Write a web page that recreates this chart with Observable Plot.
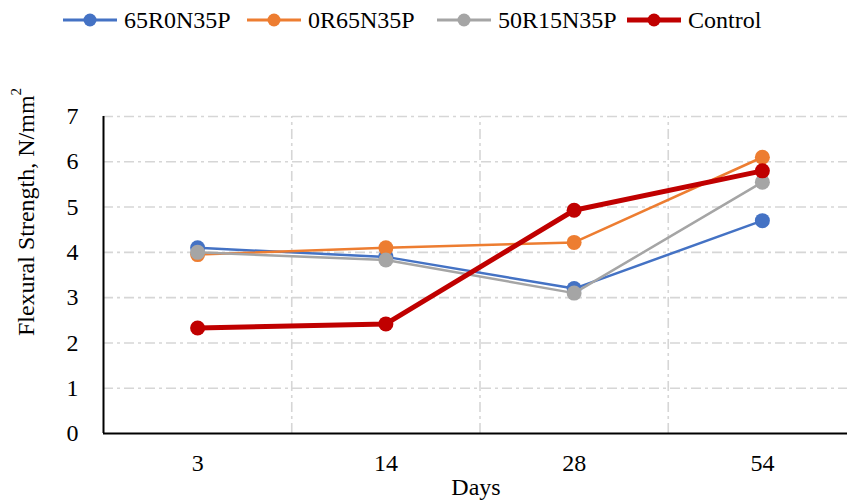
<!DOCTYPE html>
<html>
<head>
<meta charset="utf-8">
<script src="https://cdn.jsdelivr.net/npm/d3@7"></script>
<script src="https://cdn.jsdelivr.net/npm/@observablehq/plot@0.6"></script>
<style>
  html, body { margin: 0; padding: 0; background: #fff; }
  #wrap { position: relative; width: 847px; height: 501px; font-family: "Liberation Serif", serif; }
  .item { position: absolute; top: 6px; height: 28px; display: flex; align-items: center; font-family: "Liberation Serif", serif; font-size: 24px; color: #000; white-space: nowrap; }
  .item svg { margin-right: 7px; }
  svg text { font-family: "Liberation Serif", serif !important; font-variant: normal !important; font-variant-numeric: normal !important; }
</style>
</head>
<body>
<div id="wrap"></div>
<script>
// ---- data ----
const days = ["3", "14", "28", "54"];
const seriesNames = ["65R0N35P", "0R65N35P", "50R15N35P", "Control"];
const s65R0N35P = [4.1, 3.9, 3.2, 4.7];
const s0R65N35P = [3.95, 4.1, 4.22, 6.1];
const s50R15N35P = [4.0, 3.83, 3.1, 5.55];
const sControl = [2.33, 2.42, 4.93, 5.8];
const yTicks = [0, 1, 2, 3, 4, 5, 6, 7];
const colors = ["#4472C4", "#ED7D31", "#A5A5A5", "#C00000"];
const widths = [2.5, 2.5, 2.5, 5];

const seriesValues = [s65R0N35P, s0R65N35P, s50R15N35P, sControl];
const rowsBySeries = seriesValues.map((vals, k) =>
  vals.map((v, i) => ({series: seriesNames[k], i, day: days[i], value: v}))
);

const gridStyle = {stroke: "#d6d6d6", strokeWidth: 1.6, strokeDasharray: "10,4,3,4"};
const font = "Liberation Serif";

const seriesMarks = rowsBySeries.flatMap((rows, k) => [
  Plot.line(rows, {x: "i", y: "value", stroke: colors[k], strokeWidth: widths[k]}),
  Plot.dot(rows, {x: "i", y: "value", r: 7.5, fill: colors[k], stroke: "none"})
]);

const chart = Plot.plot({
  width: 847,
  height: 501,
  marginLeft: 103,
  marginRight: 0,
  marginTop: 116,
  marginBottom: 68,
  style: {fontFamily: font, fontSize: "24px", color: "#000", background: "#fff", overflow: "visible"},
  x: {type: "linear", domain: [-0.5, 3.5], range: [103, 856]},
  y: {domain: [0, 7], range: [433, 116]},
  marks: [
    Plot.ruleY(yTicks.filter(d => d > 0), gridStyle),
    Plot.ruleX(days.slice(1).map((d, i) => i + 0.5), {y1: 0, y2: 7, ...gridStyle}),
    ...seriesMarks,
    Plot.ruleY([0], {stroke: "#000", strokeWidth: 2}),
    Plot.ruleX([-0.5], {y1: 0, y2: 7, stroke: "#000", strokeWidth: 2}),
    Plot.axisY(yTicks, {tickSize: 0, tickPadding: 25, label: null, fontSize: 24, fontFamily: font, fontVariant: "normal", tickFormat: d => String(d)}),
    Plot.axisX(days.map((d, i) => i), {tickSize: 0, tickPadding: 20, label: null, fontSize: 24, fontFamily: font, fontVariant: "normal", tickFormat: i => days[i]})
  ]
});

const wrap = document.getElementById("wrap");
wrap.appendChild(chart);

// axis titles
const svg = d3.select(chart);
const yt = svg.append("text")
  .attr("transform", "translate(26,212) rotate(-90)")
  .attr("text-anchor", "middle")
  .attr("dominant-baseline", "central")
  .attr("font-family", font)
  .attr("font-size", 24)
  .attr("fill", "#000");
yt.append("tspan").text("Flexural Strength, N/mm");
yt.append("tspan").attr("font-size", 15).attr("dy", -10).text("2");

svg.append("text")
  .attr("x", 476).attr("y", 495)
  .attr("text-anchor", "middle")
  .attr("font-family", font)
  .attr("font-size", 24)
  .attr("fill", "#000")
  .text("Days");

// legend
const legendX = [63, 247, 437, 627];
seriesNames.forEach((name, k) => {
  const it = document.createElement("div");
  it.className = "item";
  it.style.left = legendX[k] + "px";
  it.innerHTML = `<svg width="54" height="16"><line x1="0" y1="8" x2="54" y2="8" stroke="${colors[k]}" stroke-width="${widths[k] === 5 ? 5 : 3}"/><circle cx="27" cy="8" r="6.5" fill="${colors[k]}"/></svg>`;
  const sp = document.createElement("span");
  sp.style.fontFamily = '"Liberation Serif", serif';
  sp.textContent = name;
  it.appendChild(sp);
  wrap.appendChild(it);
});
</script>
</body>
</html>
